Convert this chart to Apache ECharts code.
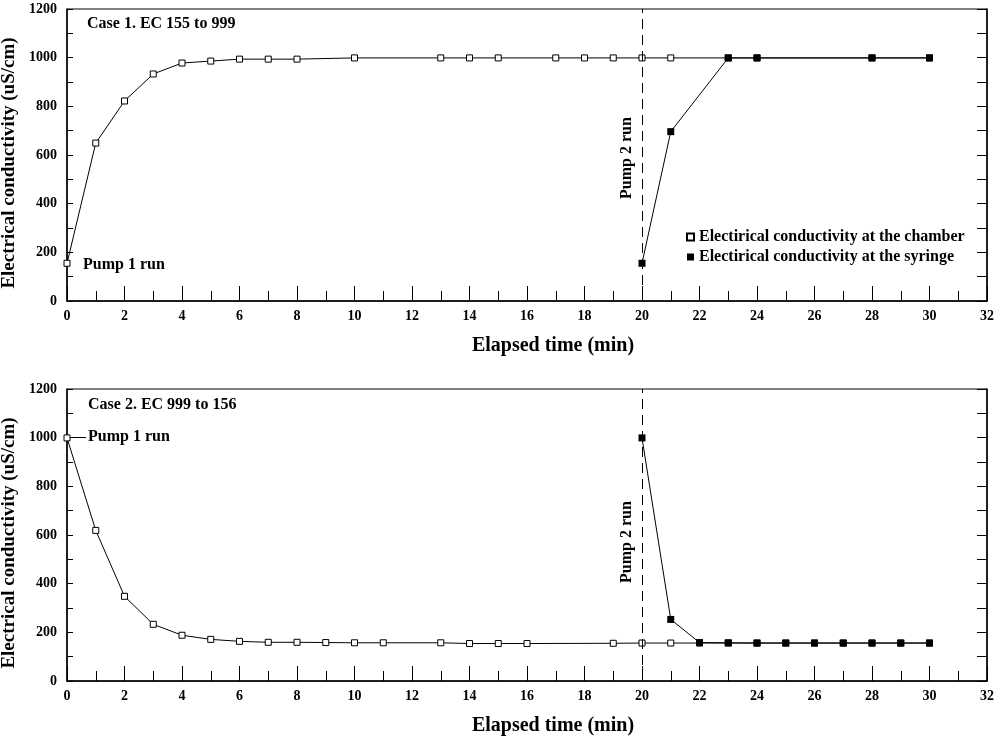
<!DOCTYPE html>
<html>
<head>
<meta charset="utf-8">
<script src="https://cdn.jsdelivr.net/npm/echarts@6/dist/echarts.min.js"></script>
<style>
html,body{margin:0;padding:0;background:#fff;}
#c{width:997px;height:740px;}
</style>
</head>
<body>
<div id="c"></div>
<script>
// ---- Data ----
const case1ChamberTime = [0,1,2,3,4,5,6,7,8,10,13,14,15,17,18,19,20,21,23,24,28,30];
const case1ChamberEC   = [155,649,822,933,978,986,994,994,994,999,999,999,999,999,999,999,999,999,999,999,999,999];
const case1SyringeTime = [20,21,23,24,28,30];
const case1SyringeEC   = [155,696,999,999,999,999];

const case2ChamberTime = [0,1,2,3,4,5,6,7,8,9,10,11,13,14,15,16,19,20,21,22,23,24,25,26,27,28,29,30];
const case2ChamberEC   = [999,619,348,233,188,171,163,159,159,158,157,157,157,154,154,154,155,156,156,156,156,156,156,156,156,156,156,156];
const case2SyringeTime = [20,21,22,23,24,25,26,27,28,29,30];
const case2SyringeEC   = [999,253,158,157,156,156,156,156,156,156,156];

const xTicks = [0,32,2];     // min, max, interval
const yTicks = [0,1200,200];
const pumpTime = 20;
const seriesNames = ['Electirical conductivity at the chamber','Electirical conductivity at the syringe'];
const caseTitles = ['Case 1. EC 155 to 999','Case 2. EC 999 to 156'];

const FONT = '"Liberation Serif", "Times New Roman", serif';

function pairs(xs, ys){ return xs.map((x,i)=>[x, ys[i]]); }

const grids = [
  {left:67, width:920, top:9, height:292},
  {left:67, width:920, top:389, height:292}
];

function xAxis(gi){
  return {
    type:'value', gridIndex:gi, min:xTicks[0], max:xTicks[1], interval:xTicks[2],
    name:'Elapsed time (min)', nameLocation:'middle', nameGap:35,
    nameTextStyle:{fontFamily:FONT, fontWeight:'bold', fontSize:20, color:'#000', padding:[0,0,0,52]},
    axisLine:{show:true, lineStyle:{color:'#000', width:1.5}},
    axisTick:{show:true, inside:true, length:15, lineStyle:{color:'#000', width:1}},
    minorTick:{show:true, splitNumber:2, length:10, lineStyle:{color:'#000', width:1}},
    axisLabel:{fontFamily:FONT, fontWeight:'bold', fontSize:14, color:'#000', margin:8, formatter:v=>String(v)},
    splitLine:{show:false}
  };
}
function yAxisLeft(gi){
  return {
    type:'value', gridIndex:gi, min:yTicks[0], max:yTicks[1], interval:yTicks[2],
    name:'Electrical conductivity (uS/cm)', nameLocation:'middle', nameGap:47,
    nameTextStyle:{fontFamily:FONT, fontWeight:'bold', fontSize:19, color:'#000', padding:[0,16,0,0]},
    axisLine:{show:true, lineStyle:{color:'#000', width:1.5}},
    axisTick:{show:true, inside:true, length:6, lineStyle:{color:'#000'}},
    minorTick:{show:true, splitNumber:2, length:6, lineStyle:{color:'#000'}},
    axisLabel:{fontFamily:FONT, fontWeight:'bold', fontSize:14, color:'#000', margin:10, formatter:v=>String(v)},
    splitLine:{show:false}
  };
}
function yAxisRight(gi){
  return {
    type:'value', gridIndex:gi, position:'right', min:yTicks[0], max:yTicks[1], interval:yTicks[2],
    axisLine:{show:true, lineStyle:{color:'#000', width:1.5}},
    axisTick:{show:true, inside:true, length:10, lineStyle:{color:'#000'}},
    minorTick:{show:true, splitNumber:2, length:10, lineStyle:{color:'#000'}},
    axisLabel:{show:false},
    splitLine:{show:false}
  };
}

const chamberStyle = {
  type:'line', symbol:'rect', symbolSize:6, showSymbol:true,
  lineStyle:{color:'#000', width:1},
  itemStyle:{color:'#fff', borderColor:'#000', borderWidth:1},
  emphasis:{disabled:true}, animation:false, z:3
};
const syringeStyle = {
  type:'line', symbol:'rect', symbolSize:7, showSymbol:true,
  lineStyle:{color:'#000', width:1},
  itemStyle:{color:'#000', borderColor:'#000', borderWidth:0},
  emphasis:{disabled:true}, animation:false, z:4
};
function dashedLine(){
  return {
    silent:true, symbol:['none','none'], animation:false,
    lineStyle:{color:'#000', type:[10,6], width:1},
    label:{show:false},
    data:[{xAxis:pumpTime}]
  };
}

const option = {
  backgroundColor:'#fff',
  animation:false,
  grid: grids.map(g=>Object.assign({show:true, borderColor:'#000', borderWidth:1, backgroundColor:'transparent', containLabel:false, outerBoundsMode:'none'}, g)),
  xAxis:[xAxis(0), xAxis(1)],
  yAxis:[yAxisLeft(0), yAxisRight(0), yAxisLeft(1), yAxisRight(1)],
  legend:{
    show:true, orient:'vertical', left:681, top:224, itemGap:4,
    icon:'rect', itemWidth:7, itemHeight:7,
    textStyle:{fontFamily:FONT, fontWeight:'bold', fontSize:16, color:'#000'},
    data:seriesNames
  },
  series:[
    Object.assign({}, chamberStyle, {name:seriesNames[0], xAxisIndex:0, yAxisIndex:0,
      data:pairs(case1ChamberTime, case1ChamberEC), markLine:dashedLine()}),
    Object.assign({}, syringeStyle, {name:seriesNames[1], xAxisIndex:0, yAxisIndex:0,
      data:pairs(case1SyringeTime, case1SyringeEC)}),
    Object.assign({}, chamberStyle, {name:seriesNames[0], xAxisIndex:1, yAxisIndex:2,
      data:pairs(case2ChamberTime, case2ChamberEC), markLine:dashedLine()}),
    Object.assign({}, syringeStyle, {name:seriesNames[1], xAxisIndex:1, yAxisIndex:2,
      data:pairs(case2SyringeTime, case2SyringeEC)})
  ],
  graphic:[
    {type:'text', left:87, top:16, style:{text:caseTitles[0], font:'bold 16px '+FONT, fill:'#000'}},
    {type:'text', left:83, top:257, style:{text:'Pump 1 run', font:'bold 16px '+FONT, fill:'#000'}},
    {type:'text', left:88, top:397, style:{text:caseTitles[1], font:'bold 16px '+FONT, fill:'#000'}},
    {type:'text', left:88, top:429, style:{text:'Pump 1 run', font:'bold 16px '+FONT, fill:'#000'}},
    {type:'line', shape:{x1:70, y1:437.5, x2:86, y2:437.5}, style:{stroke:'#000', lineWidth:1}},
    {type:'text', x:627, y:158, rotation:Math.PI/2, style:{text:'Pump 2 run', font:'bold 16px '+FONT, fill:'#000', align:'center', verticalAlign:'middle'}},
    {type:'text', x:627, y:542, rotation:Math.PI/2, style:{text:'Pump 2 run', font:'bold 16px '+FONT, fill:'#000', align:'center', verticalAlign:'middle'}}
  ]
};

const chart = echarts.init(document.getElementById('c'), null, {renderer:'canvas'});
chart.setOption(option);
</script>
</body>
</html>
